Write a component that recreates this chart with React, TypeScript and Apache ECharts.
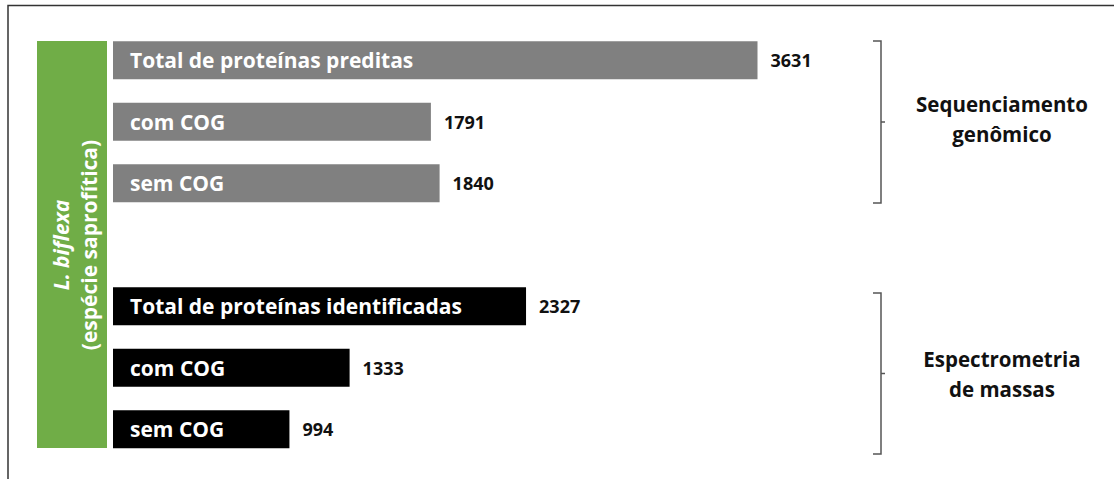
import React, { useEffect, useRef } from "react";
import * as echarts from "echarts";

const categories = [
  "Total de proteínas preditas",
  "com COG",
  "sem COG",
  "",
  "Total de proteínas identificadas",
  "com COG",
  "sem COG",
];
const values: (number | null)[] = [3631, 1791, 1840, null, 2327, 1333, 994];
const barColors = ["#808080", "#808080", "#808080", "#808080", "#000000", "#000000", "#000000"];
const groupLabels = ["Sequenciamento\ngenômico", "Espectrometria\nde massas"];
const sideTitle = ["L. biflexa", "(espécie saprofítica)"];

const FONT = "'Open Sans', 'Noto Sans', sans-serif";

export default function App() {
  const ref = useRef<HTMLDivElement>(null);
  useEffect(() => {
    if (!ref.current) return;
    const chart = echarts.init(ref.current, null, { renderer: "svg" });
    const bracket = (top: number, bottom: number) => ({
      type: "group",
      children: [
        {
          type: "polyline",
          shape: { points: [[873, top], [881, top], [881, bottom], [873, bottom]] },
          style: { stroke: "#555", lineWidth: 1.5, fill: null },
        },
        {
          type: "line",
          shape: { x1: 881, y1: (top + bottom) / 2, x2: 885, y2: (top + bottom) / 2 },
          style: { stroke: "#555", lineWidth: 1.5 },
        },
      ],
    });
    const groupText = (y: number, text: string) => ({
      type: "text",
      x: 1002,
      y,
      style: {
        text,
        align: "center",
        verticalAlign: "middle",
        fontFamily: FONT,
        fontSize: 20.5,
        fontWeight: "bold",
        lineHeight: 30,
        fill: "#111",
      },
    });
    chart.setOption({
      animation: false,
      grid: { left: 113, top: 29.5, width: 887.5, height: 430.5, containLabel: false },
      xAxis: { type: "value", min: 0, max: 5000, show: false },
      yAxis: {
        type: "category",
        data: categories,
        inverse: true,
        show: false,
      },
      graphic: [
        {
          type: "polyline",
          shape: { points: [[8, 479], [8, 5.5], [1114, 5.5]] },
          style: { stroke: "#333", lineWidth: 1.5, fill: null },
        },
        {
          type: "rect",
          shape: { x: 37, y: 41, width: 70, height: 407 },
          style: { fill: "#70AD47" },
        },
        {
          type: "text",
          x: 75,
          y: 245,
          rotation: Math.PI / 2,
          style: {
            text: `{i|${sideTitle[0]}}\n{n|${sideTitle[1]}}`,
            align: "center",
            verticalAlign: "middle",
            fill: "#fff",
            rich: {
              i: { fontFamily: FONT, fontSize: 21, fontWeight: "bold", fontStyle: "italic", fill: "#fff", lineHeight: 28, align: "center" },
              n: { fontFamily: FONT, fontSize: 21, fontWeight: "bold", fill: "#fff", lineHeight: 28, align: "center" },
            },
          },
        },
        bracket(41, 203),
        bracket(293, 454),
        groupText(119, groupLabels[0]),
        groupText(374, groupLabels[1]),
      ],
      series: [
        {
          type: "bar",
          barWidth: 38,
          data: values.map((v, i) => ({ value: v, itemStyle: { color: barColors[i] } })),
          label: {
            show: true,
            position: [17, "50%"],
            verticalAlign: "middle",
            formatter: (p: any) => categories[p.dataIndex],
            color: "#fff",
            fontFamily: FONT,
            fontSize: 21,
            fontWeight: "bold",
          },
          silent: true,
        },
        {
          type: "bar",
          barWidth: 38,
          barGap: "-100%",
          data: values,
          itemStyle: { color: "transparent" },
          label: {
            show: true,
            position: "right",
            distance: 13,
            formatter: (p: any) => String(p.value),
            color: "#111",
            fontFamily: FONT,
            fontSize: 18,
            fontWeight: "bold",
          },
          silent: true,
        },
      ],
    });
    return () => chart.dispose();
  }, []);
  return (
    <div
      ref={ref}
      style={{ position: "fixed", left: 0, top: 0, width: 1114, height: 479, background: "#fff" }}
    />
  );
}
